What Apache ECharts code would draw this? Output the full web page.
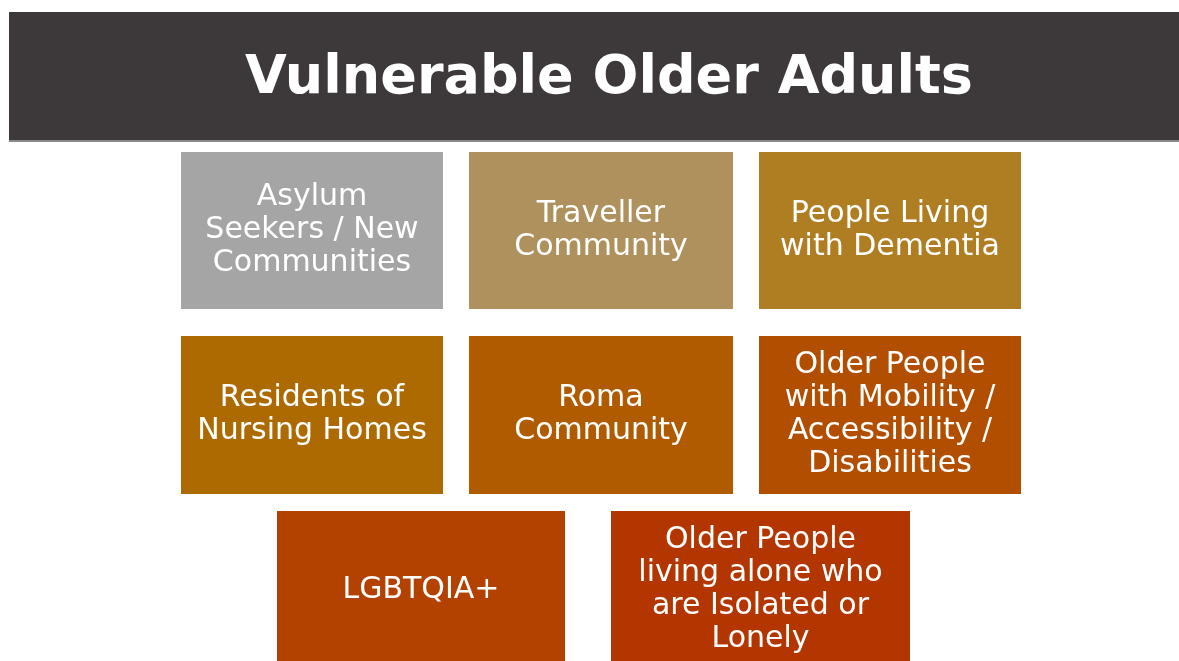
<!DOCTYPE html>
<html>
<head>
<meta charset="utf-8">
<script src="https://cdn.jsdelivr.net/npm/echarts@6/dist/echarts.min.js"></script>
<style>
html, body { margin: 0; padding: 0; background: #fff; }
#chart { width: 1179px; height: 661px; }
</style>
</head>
<body>
<div id="chart"></div>
<script>
// 标题
const titleText = 'Vulnerable Older Adults';

// 各组名称
const groupNames = [
	'Asylum\nSeekers / New\nCommunities',
	'Traveller\nCommunity',
	'People Living\nwith Dementia',
	'Residents of\nNursing Homes',
	'Roma\nCommunity',
	'Older People\nwith Mobility /\nAccessibility /\nDisabilities',
	'LGBTQIA+',
	'Older People\nliving alone who\nare Isolated or\nLonely',
];

// 方块颜色
const boxColors = ['#a5a5a5', '#ae915d', '#b07e22', '#ac6a00', '#b05b00', '#b24e00', '#b34200', '#b33600'];

// 方块位置 [x0, y0, x1, y1]
const boxLayout = [
	[181, 152, 443, 309],
	[469, 152, 733, 309],
	[759, 152, 1021, 309],
	[181, 336, 443, 494],
	[469, 336, 733, 494],
	[759, 336, 1021, 494],
	[277, 511, 565, 669],
	[611, 511, 910, 669],
];

const chart = echarts.init(document.getElementById('chart'));
const font = 'Verdana, "DejaVu Sans", sans-serif';

const option = {
	animation: false,
	title: {
		text: titleText,
		left: 604,
		textAlign: 'center',
		top: 47,
		textStyle: {
			color: '#ffffff',
			fontFamily: font,
			fontWeight: 'bold',
			fontSize: 54,
		},
	},
	graphic: [
		{
			type: 'rect',
			z: -1,
			shape: { x: 9, y: 12, width: 1170, height: 128 },
			style: { fill: '#3d393a' },
		},
		{
			type: 'rect',
			z: -1,
			shape: { x: 9, y: 140, width: 1170, height: 2 },
			style: { fill: '#8a8888' },
		},
	],
	grid: { left: 0, right: 0, top: 0, bottom: 0 },
	xAxis: { type: 'value', min: 0, max: 1179, show: false },
	yAxis: { type: 'value', min: 0, max: 661, inverse: true, show: false },
	series: [
		{
			type: 'custom',
			clip: false,
			data: boxLayout.map((b, i) => ({ value: b, name: groupNames[i] })),
			renderItem: function (params, api) {
				const p0 = api.coord([api.value(0), api.value(1)]);
				const p1 = api.coord([api.value(2), api.value(3)]);
				const i = params.dataIndex;
				return {
					type: 'rect',
					shape: { x: p0[0], y: p0[1], width: p1[0] - p0[0], height: p1[1] - p0[1] },
					style: { fill: boxColors[i] },
					textContent: {
						style: {
							text: groupNames[i],
							fill: '#ffffff',
							fontFamily: font,
							fontSize: 30,
							lineHeight: 33,
							align: 'center',
							verticalAlign: 'middle',
						},
					},
					textConfig: { position: 'inside' },
				};
			},
		},
	],
};

chart.setOption(option);
</script>
</body>
</html>
